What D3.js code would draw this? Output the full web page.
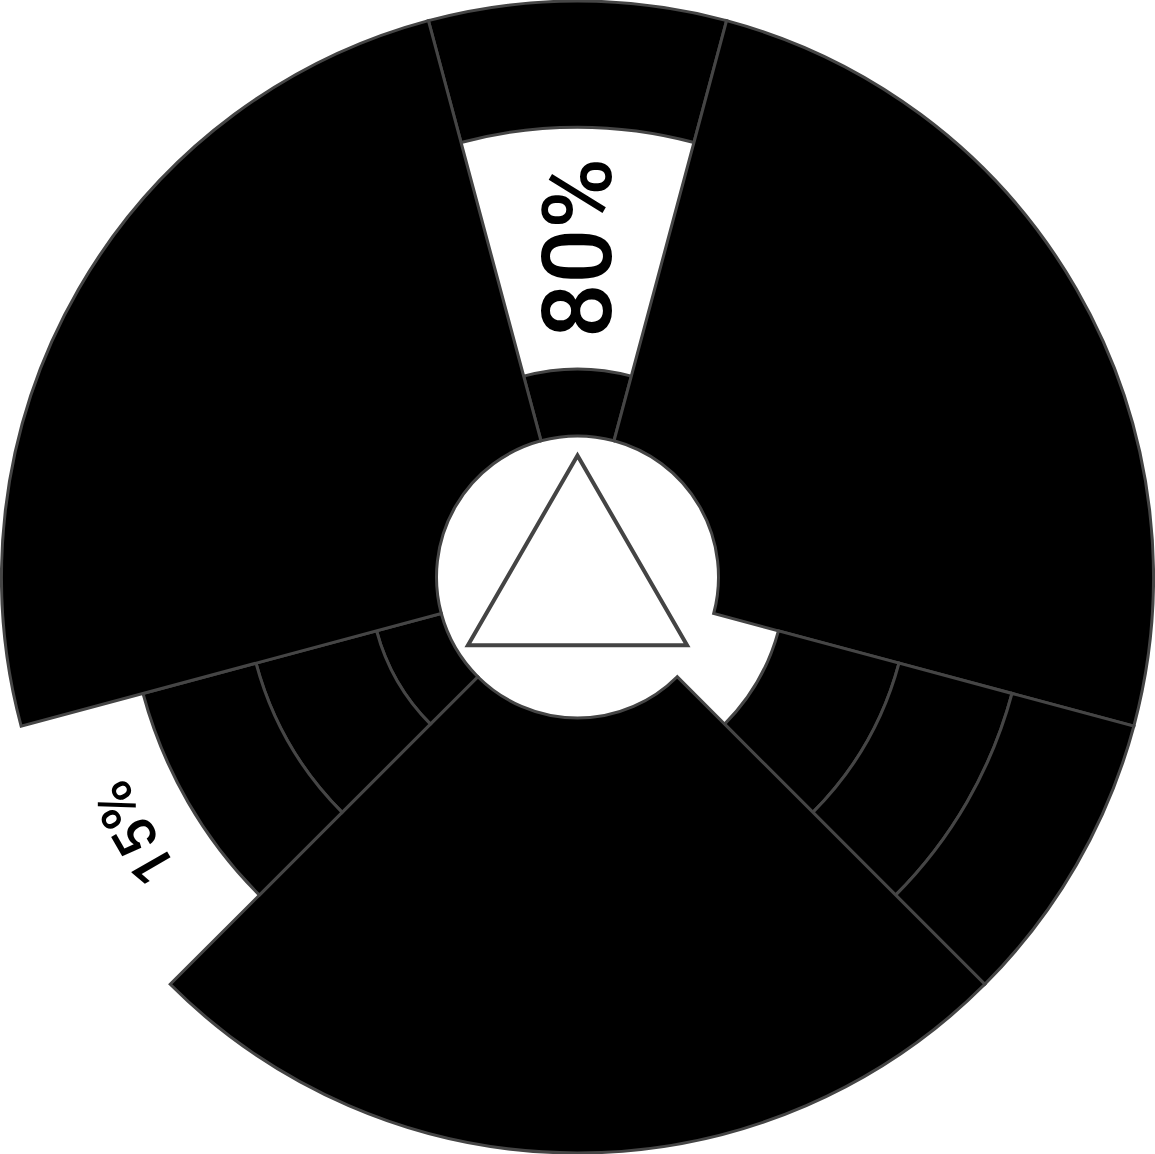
<!DOCTYPE html>
<html><head><meta charset="utf-8">
<script src="https://cdn.jsdelivr.net/npm/d3@7"></script>
<style>html,body{margin:0;padding:0;background:#fff;} svg{display:block;}</style>
</head><body>
<svg id="chart" width="1155" height="1154"></svg>
<script>
// ---- data ----
const sectorNames = ["top", "right", "lowerRight", "bottom", "lowerLeft", "left"];
const sectorSpans = [30, 90, 30, 90, 30, 90];           // angular share (degrees)
// filled segments: sector index, radial from / to (percent of radial scale)
const segmentSector = [0, 0, 1, 2, 2, 2, 3, 4, 4, 4, 5];
const segmentFrom   = [0, 71, 0, 15.4, 44.1, 71, 0, 0, 15.4, 44.1, 0];
const segmentTo     = [15.4, 100, 100, 44.1, 71, 100, 100, 15.4, 44.1, 71, 100];
// value labels placed in the empty bands
const labelSector = [0, 4];
const labelText   = ["80%", "15%"];
const labelFrom   = [15.4, 71];
const labelTo     = [71, 100];

// ---- layout ----
const cx = 577.5, cy = 577;
const innerR = 141, outerR = 576;
const svg = d3.select("#chart");
const g = svg.append("g").attr("transform", `translate(${cx},${cy})`);

const r = d3.scaleLinear().domain([0, 100]).range([innerR, outerR]);
const start = -(sectorSpans[0] / 2) * Math.PI / 180;
const pie = d3.pie().sort(null).value(d => d.span)
  .startAngle(start).endAngle(start + 2 * Math.PI);
const sectors = pie(sectorNames.map((n, i) => ({ name: n, span: sectorSpans[i] })));

const arc = d3.arc();
const segments = segmentSector.map((s, i) => ({ s, from: segmentFrom[i], to: segmentTo[i] }));

g.selectAll("path.seg").data(segments).join("path")
  .attr("class", "seg")
  .attr("d", d => arc({
    innerRadius: r(d.from), outerRadius: r(d.to),
    startAngle: sectors[d.s].startAngle, endAngle: sectors[d.s].endAngle
  }))
  .attr("fill", "#000")
  .attr("stroke", "#454545")
  .attr("stroke-width", 3);

const labels = labelSector.map((s, i) => {
  const sec = sectors[s];
  const mid = (sec.startAngle + sec.endAngle) / 2;
  const rm = r((labelFrom[i] + labelTo[i]) / 2);
  const thick = r(labelTo[i]) - r(labelFrom[i]);
  const arcLen = rm * (sec.endAngle - sec.startAngle);
  return { text: labelText[i], deg: mid * 180 / Math.PI, rm, radial: thick > arcLen };
});

g.selectAll("text.lbl").data(labels).join("text")
  .attr("class", "lbl")
  .attr("transform", d => `rotate(${d.deg}) translate(0,${-d.rm})` + (d.radial ? " rotate(-90)" : ""))
  .attr("text-anchor", "middle")
  .attr("dy", "0.35em")
  .attr("font-family", "Roboto, 'Noto Sans', sans-serif")
  .attr("font-weight", 500)
  .attr("font-size", d => d.radial ? 96 : 58)
  .attr("fill", "#000")
  .text(d => d.text);

// central triangle symbol
const triR = 126.5;
g.append("path")
  .attr("d", d3.symbol(d3.symbolTriangle, Math.pow(triR / 2, 2) * 3 * Math.sqrt(3))())
  .attr("transform", "translate(0,5)")
  .attr("fill", "#fff")
  .attr("stroke", "#444")
  .attr("stroke-width", 4);
</script>
</body></html>
